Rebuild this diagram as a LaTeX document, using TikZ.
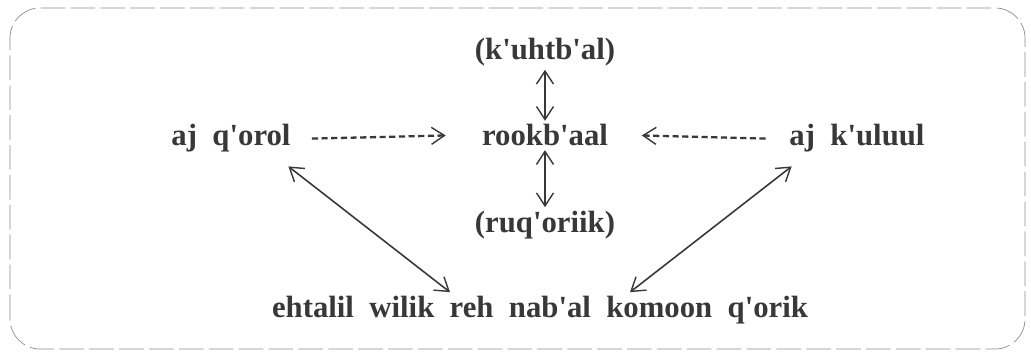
\documentclass[tikz,border=0pt]{standalone}
\usepackage{fontspec}
\setmainfont{Liberation Serif}[Ligatures=TeXOff]
\usetikzlibrary{arrows.meta}
\usetikzlibrary{positioning}

\begin{document}
\begin{tikzpicture}[
        >={Straight Barb[length=2.6mm,width=3.4mm,line width=0.8pt]},
        word/.style={
            text=black!78,
            font=\fontsize{17.5}{20}\selectfont\bfseries,
            inner sep=2pt,
        },
        link/.style={
            draw=black!78,
            line width=0.9pt,
        },
        dashlink/.style={
            draw=black!78,
            line width=1.3pt,
            dash pattern=on 3.5pt off 2pt,
        }
    ]

    \useasboundingbox (0,0) rectangle (20.62,7.1);
    \draw [black!45, dash pattern=on 14pt off 3pt, rounded corners=0.6cm]
        (0.2,0.12) rectangle (20.5,6.94);

    \node (kuhtbal) at (10.9,6.06) [word] {(k'uhtb'al)};
    \node (rookbaal) at (10.9,4.18) [word, anchor=base] {rookb'aal};
    \node (ruqoriik) at (10.9,2.6) [word] {(ruq'oriik)};
    \node (ajqorol) at (4.62,4.18) [word, anchor=base] {aj\ \ q'orol};
    \node (ajkuluul) at (17.14,4.18) [word, anchor=base] {aj\ \ k'uluul};
    \node (ehtalil) at (10.8,0.9) [word] {ehtalil\ \ wilik\ \ reh\ \ nab'al\ \ komoon\ \ q'orik};

    \draw [dashlink, ->] ([xshift=0.35cm]ajqorol.east) -- ([xshift=-0.65cm]rookbaal.west);
    \draw [dashlink, ->] ([xshift=-0.4cm]ajkuluul.west) -- ([xshift=0.6cm]rookbaal.east);
    \draw [link, <->] (kuhtbal) -- (rookbaal);
    \draw [link, <->] (rookbaal) -- (ruqoriik);
    \draw [link, <->] ([xshift=-0.12cm,yshift=-0.2cm]ajqorol.south east) -- ([xshift=-1.8cm]ehtalil.north);
    \draw [link, <->] ([xshift=0.12cm,yshift=-0.2cm]ajkuluul.south west) -- ([xshift=1.8cm]ehtalil.north);

\end{tikzpicture}
\end{document}
